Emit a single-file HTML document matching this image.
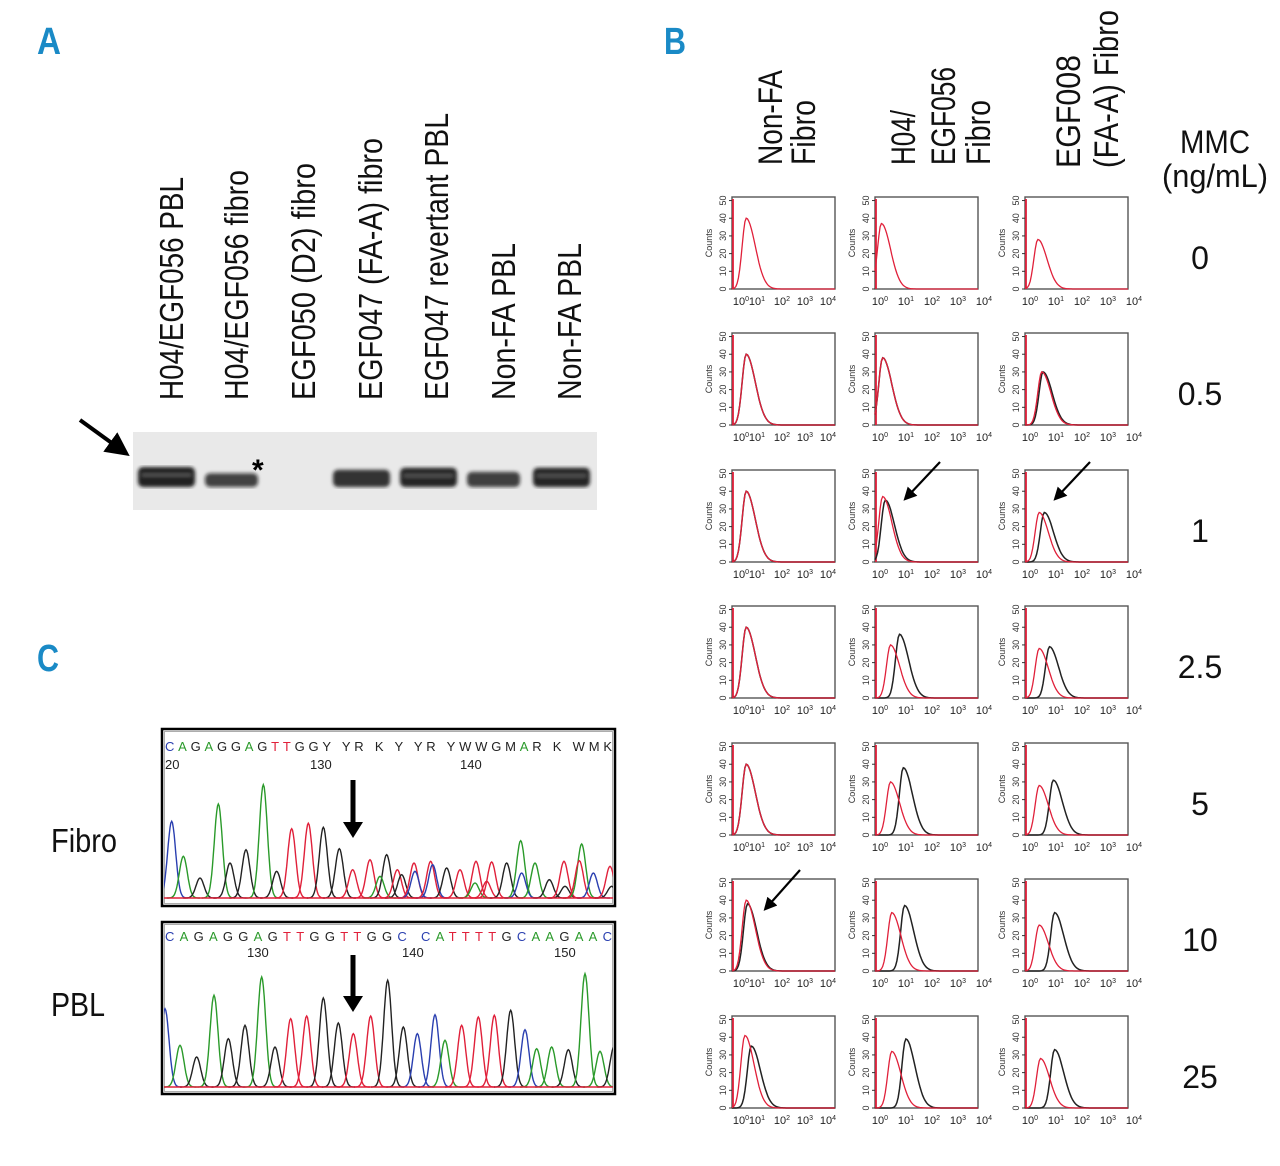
<!DOCTYPE html>
<html><head><meta charset="utf-8"><style>
html,body{margin:0;padding:0;background:#fff;}
svg{display:block;font-family:"Liberation Sans",sans-serif;}
</style></head><body>
<svg id="fig" width="1280" height="1166" viewBox="0 0 1280 1166" xmlns="http://www.w3.org/2000/svg">
<defs>
<marker id="ah" markerWidth="6" markerHeight="6" refX="3" refY="3" orient="auto" markerUnits="strokeWidth"><path d="M0,0 L6,3 L0,6 z" fill="#000"/></marker>
<filter id="blur1"><feGaussianBlur stdDeviation="1.8"/></filter>
</defs>
<g font-weight="bold" fill="#1a8ac6" font-size="38">
<text x="37" y="54" textLength="24" lengthAdjust="spacingAndGlyphs">A</text>
<text x="664" y="54" textLength="22" lengthAdjust="spacingAndGlyphs">B</text>
<text x="37" y="671" textLength="22" lengthAdjust="spacingAndGlyphs">C</text>
</g>
<g id="panelA"></g>
<g id="panelB"></g>
<g id="panelC"></g>
</svg>
<script>
// ---------- Panel A data ----------
const laneLabels=["H04/EGF056 PBL","H04/EGF056 fibro","EGF050 (D2) fibro","EGF047 (FA-A) fibro","EGF047 revertant PBL","Non-FA PBL","Non-FA PBL"];
const laneIntensity=[1.0,0.55,0,0.8,0.95,0.65,0.95];
// ---------- Panel B data ----------
const mmcLabels=["0","0.5","1","2.5","5","10","25"];
const colTitles=[["Non-FA","Fibro"],["H04/","EGF056","Fibro"],["EGF008","(FA-A) Fibro"]];
const yTicks=[0,10,20,30,40,50];
const redPeak=[[0.55,0.55,0.55,0.55,0.55,0.55,0.5],[0.25,0.3,0.3,0.6,0.6,0.65,0.65],[0.5,0.65,0.55,0.55,0.55,0.55,0.6]];
const redHeight=[[40,40,40,40,40,40,41],[37,38,37,30,30,33,32],[28,30,28,28,28,26,28]];
const blackPeak=[[null,0.55,0.55,0.55,0.55,0.6,0.75],[null,0.3,0.4,0.95,1.1,1.15,1.2],[null,0.7,0.75,0.95,1.1,1.15,1.15]];
const blackHeight=[[null,40,40,40,40,38,35],[null,38,35,36,38,37,39],[null,30,28,29,31,33,33]];
// ---------- Panel C data (scan position, signal, base) ----------
const fibroPos=[35,70,120,175,210,258,310,350,395,445,490,538,578,630,680,660,712,725,762,765,812,818,860,900,948,945,995,980,1040,1082,1085,1125,1168,1215,1212,1265,1258,1300,1350,1355];
const fibroSig=[230,125,60,282,105,145,340,80,208,224,212,148,85,115,130,65,85,70,105,80,110,100,90,85,110,45,108,50,105,172,75,105,55,35,110,162,112,75,95,35];
const fibroBase=["C","A","G","A","G","G","A","G","T","T","G","G","T","T","G","A","T","G","T","C","T","C","G","T","T","A","T","T","G","A","C","A","G","G","T","A","T","C","T","G"];
const pblPos=[15,60,110,162,205,255,305,345,392,440,490,535,580,632,683,730,772,825,855,905,955,1003,1052,1095,1130,1175,1225,1275,1320,1362];
const pblSig=[235,125,90,275,145,185,330,120,205,213,267,192,160,213,320,180,160,217,140,185,210,215,230,172,115,120,112,340,107,120];
const pblBase=["C","A","G","A","G","G","A","G","T","T","G","G","T","T","G","G","C","C","A","T","T","T","G","C","A","A","G","A","A","G"];
const fibroSeq="CAGAGGAGTTGGY YR K Y YR YWWGMAR K WMK";
const pblSeq="CAGAGGAGTTGGTTGGC CATTTTGCAAGAAC";

const NS="http://www.w3.org/2000/svg";
function mk(tag,attrs,parent){const e=document.createElementNS(NS,tag);for(const k in attrs)e.setAttribute(k,attrs[k]);if(parent)parent.appendChild(e);return e;}
const baseColor={A:"#2a9a2a",G:"#222",T:"#e0203a",C:"#2a3fb0",Y:"#222",R:"#222",K:"#222",W:"#222",M:"#222"};

// ===== Panel A =====
const A=document.getElementById('panelA');
const laneRight=[183,248,315,382,448,515,581];
const laneTop=[177,170,163,138,113,243,243];
laneLabels.forEach((t,i)=>{
  const tx=mk('text',{x:0,y:0,transform:`translate(${laneRight[i]},400) rotate(-90)`,'font-size':33,textLength:400-laneTop[i],lengthAdjust:'spacingAndGlyphs',fill:'#111'},A);
  tx.textContent=t;
  
  
});
const blot=mk('rect',{x:133,y:432,width:464,height:78,fill:'#e9e9e9'},A);


const laneX=[138,205,270,333,400,467,533],laneW=[57,53,55,57,57,53,57];
const g=mk('g',{filter:'url(#blur1)'},A);
laneIntensity.forEach((v,i)=>{
  if(v<=0)return;
  const h=6+14*v, bottom=487;
  const b=mk('rect',{x:laneX[i],y:bottom-h,width:laneW[i],height:h,rx:5,fill:'#151515','fill-opacity':Math.min(0.95,0.55+v*0.4)},g);
  
  
  if(v>0.9){mk('rect',{x:laneX[i]+4,y:bottom-h+7,width:laneW[i]-8,height:2,fill:'#888','fill-opacity':0.6},g);}
});
const ast=mk('text',{x:252,y:480,'font-size':30,'font-weight':'bold',fill:'#000'},A);ast.textContent="*";

const arA=mk('line',{x1:80,y1:420,x2:120,y2:449,stroke:'#000','stroke-width':4,'marker-end':'url(#ah)'},A);


// ===== Panel B =====
const B=document.getElementById('panelB');
const colLeft=[732,875,1025], boxW=103, boxH=92;
const rowTop=[197,333,470,606,743,879,1016];
const col1Lab=[741,757,782,805,828];
function xs(c,d){return colLeft[c]+d/4*boxW;}
function ys(r,v){return rowTop[r]+boxH-v/52*boxH;}
function curve(c,r,p,h){
  let d="";
  for(let k=0;k<=80;k++){const x=k/20; const w=x<p?0.22:0.5; const v=h*Math.exp(-Math.pow((x-p)/w,2));
    d+=(k?"L":"M")+xs(c,x).toFixed(1)+","+ys(r,v).toFixed(1);}
  return d;
}
const hdrRight=[[782,815],[915,955,990],[1080,1118]];
const hdrTop=[[70,100],[110,67,100],[55,10]];
colTitles.forEach((lines,c)=>lines.forEach((t,j)=>{
  const bottom= (c==2)?168:165;
  const tx=mk('text',{transform:`translate(${hdrRight[c][j]},${bottom}) rotate(-90)`,'font-size':34,textLength:bottom-hdrTop[c][j],lengthAdjust:'spacingAndGlyphs',fill:'#111'},B);
  tx.textContent=t;
}));
const mmc=mk('text',{x:1215,y:153,'font-size':32,'text-anchor':'middle',textLength:70,lengthAdjust:'spacingAndGlyphs',fill:'#111'},B);mmc.textContent="MMC";

const mmc2=mk('text',{x:1215,y:187,'font-size':32,'text-anchor':'middle',textLength:106,lengthAdjust:'spacingAndGlyphs',fill:'#111'},B);mmc2.textContent="(ng/mL)";

mmcLabels.forEach((t,r)=>{
  const tx=mk('text',{x:1200,y:rowTop[r]+72,'font-size':32,'text-anchor':'middle',fill:'#111'},B);tx.textContent=t;
  
});
for(let c=0;c<3;c++)for(let r=0;r<7;r++){
  const pg=mk('g',{},B);
  
  
  const box=mk('rect',{x:colLeft[c],y:rowTop[r],width:boxW,height:boxH,fill:'none',stroke:'#555','stroke-width':1.4},pg);
  
  yTicks.forEach(v=>{
    const y=ys(r,v);
    mk('line',{x1:colLeft[c]-3,y1:y,x2:colLeft[c],y2:y,stroke:'#333'},pg);
    const tx=mk('text',{transform:`translate(${colLeft[c]-6},${y}) rotate(-90)`,'font-size':9,'text-anchor':'middle',fill:'#333'},pg);tx.textContent=v;
    
  });
  const cl=mk('text',{transform:`translate(${colLeft[c]-20},${rowTop[r]+46}) rotate(-90)`,'font-size':9,'text-anchor':'middle',fill:'#333'},pg);cl.textContent="Counts";
  
  for(let d=0;d<5;d++){
    const x=c==0?col1Lab[d]:colLeft[c]+5+d*26;
    const tx=mk('text',{x:x,y:rowTop[r]+boxH+16,'font-size':11,'text-anchor':'middle',fill:'#222'},pg);
    tx.innerHTML=`10<tspan dy="-4" font-size="7">${d}</tspan>`;
    
  }
  mk('line',{x1:colLeft[c]+1,y1:rowTop[r]+2,x2:colLeft[c]+1,y2:rowTop[r]+boxH,stroke:'#e0203a','stroke-width':1.8},pg);
  if(blackPeak[c][r]!==null){
    const bl=mk('path',{d:curve(c,r,blackPeak[c][r],blackHeight[c][r]),fill:'none',stroke:'#222','stroke-width':1.5},pg);
    
  }
  const rd=mk('path',{d:curve(c,r,redPeak[c][r],redHeight[c][r]),fill:'none',stroke:'#e0203a','stroke-width':1.3},pg);
  
}
[[940,462,908,496],[1090,462,1058,496],[800,870,768,906]].forEach(a=>{
  const l=mk('line',{x1:a[0],y1:a[1],x2:a[2],y2:a[3],stroke:'#000','stroke-width':2.2,'marker-end':'url(#ah)'},B);
  
});

// ===== Panel C =====
const C=document.getElementById('panelC');
function chrom(top,bottom,base,pos,sig,bases,seq,seqY,nums,numY,name){
  const gg=mk('g',{},C);
  
  
  mk('rect',{x:162,y:top,width:453,height:bottom-top,fill:'#fff',stroke:'#000','stroke-width':2.5},gg);
  mk('rect',{x:164.5,y:top+2.5,width:448,height:bottom-top-5,fill:'none',stroke:'#999','stroke-width':0.8},gg);
  const cl=mk('clipPath',{id:'cp'+top},gg);mk('rect',{x:164,y:top,width:449,height:bottom-top},cl);
  const pk=mk('g',{'clip-path':`url(#cp${top})`},gg);
  const sx=s=>160+s/3, sy=v=>base-v/3;
  pos.forEach((p,i)=>{
    let d="";
    for(let k=-20;k<=20;k++){const s=p+k*2.5;const v=sig[i]*Math.exp(-Math.pow(k*2.5/17,2));d+=(k>-20?"L":"M")+sx(s).toFixed(1)+","+sy(v).toFixed(1);}
    const pe=mk('path',{d:d,fill:'none',stroke:baseColor[bases[i]],'stroke-width':1.4},pk);
    
  });
  mk('line',{x1:164,y1:base,x2:613,y2:base,stroke:'#e0203a','stroke-width':1.5},gg);
  const st=mk('text',{x:165,y:seqY,'font-size':13,textLength:447,lengthAdjust:'spacing'},gg);
  for(const ch of seq){const ts=mk('tspan',{fill:baseColor[ch]||'#222'},st);ts.textContent=ch;}
  
  nums.forEach(n=>{const t=mk('text',{x:n[0],y:numY,'font-size':13,fill:'#222'},gg);t.textContent=n[1];
    });
  return gg;
}
chrom(729,906,898,fibroPos,fibroSig,fibroBase,fibroSeq,751,[[165,"20"],[310,"130"],[460,"140"]],769,'fibro-chromatogram');
chrom(922,1094,1087,pblPos,pblSig,pblBase,pblSeq,941,[[247,"130"],[402,"140"],[554,"150"]],957,'pbl-chromatogram');
[[353,780,838],[353,955,1012]].forEach(a=>{
  const l=mk('line',{x1:a[0],y1:a[1],x2:a[0],y2:a[2]-12,stroke:'#000','stroke-width':5},C);
  
  const h=mk('path',{d:`M${a[0]-10},${a[2]-16} L${a[0]+10},${a[2]-16} L${a[0]},${a[2]} z`,fill:'#000'},C);
  
});
const f=mk('text',{x:51,y:852,'font-size':33,fill:'#111',textLength:66,lengthAdjust:'spacingAndGlyphs'},C);f.textContent="Fibro";

const p=mk('text',{x:51,y:1016,'font-size':33,fill:'#111',textLength:54,lengthAdjust:'spacingAndGlyphs'},C);p.textContent="PBL";

</script>
</body></html>
